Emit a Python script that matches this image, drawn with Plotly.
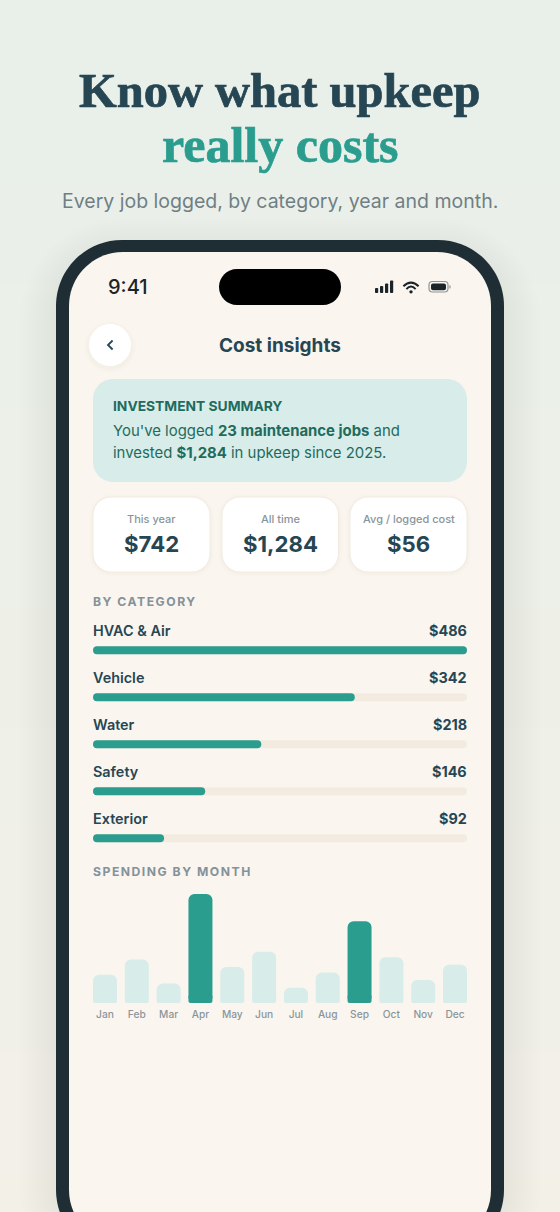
import plotly.graph_objects as go

W, H = 560, 1212

# ---- data ----
categories = ["HVAC & Air", "Vehicle", "Water", "Safety", "Exterior"]
category_labels = ["$486", "$342", "$218", "$146", "$92"]
category_fill_pct = [100, 70, 45, 30, 19]
months = ["Jan", "Feb", "Mar", "Apr", "May", "Jun", "Jul", "Aug", "Sep", "Oct", "Nov", "Dec"]
month_pct = [26, 40, 18, 100, 33, 47, 14, 28, 75, 42, 21, 35]
highlight_months = ["Apr", "Sep"]
stat_labels = ["This year", "All time", "Avg / logged cost"]
stat_values = ["$742", "$1,284", "$56"]

# ---- colours ----
DARK = "#264653"
TEAL = "#2a9d8f"
MINT = "#d8ede9"
TRACK = "#f3ebe0"
SCREEN = "#faf5ef"
FRAME = "#1f2e35"
GREEN_TXT = "#1f6b5e"
GREY = "#84929a"
INTER = "Inter"
SERIF = "Liberation Serif"


def px(x):
    return x / W


def py(y):
    return 1 - y / H


def rr_path(x0, y0, x1, y1, r):
    k = 0.5523 * r
    pts = [
        f"M{px(x0 + r)},{py(y0)}", f"L{px(x1 - r)},{py(y0)}",
        f"C{px(x1 - r + k)},{py(y0)} {px(x1)},{py(y0 + r - k)} {px(x1)},{py(y0 + r)}",
        f"L{px(x1)},{py(y1 - r)}",
        f"C{px(x1)},{py(y1 - r + k)} {px(x1 - r + k)},{py(y1)} {px(x1 - r)},{py(y1)}",
        f"L{px(x0 + r)},{py(y1)}",
        f"C{px(x0 + r - k)},{py(y1)} {px(x0)},{py(y1 - r + k)} {px(x0)},{py(y1 - r)}",
        f"L{px(x0)},{py(y0 + r)}",
        f"C{px(x0)},{py(y0 + r - k)} {px(x0 + r - k)},{py(y0)} {px(x0 + r)},{py(y0)}", "Z",
    ]
    return "".join(pts)


shapes = []


def rr(x0, y0, x1, y1, r, fill, line=None, lw=0):
    shapes.append(dict(type="path", path=rr_path(x0, y0, x1, y1, r), xref="paper", yref="paper",
                       fillcolor=fill, layer="below",
                       line=dict(color=line or "rgba(0,0,0,0)", width=lw)))


def mix(a, b, t):
    return "rgb(%d,%d,%d)" % tuple(round(a[i] + (b[i] - a[i]) * t) for i in range(3))


# background gradient (each band runs to the page bottom so no seams show)
TOP_C, BOT_C = (232, 240, 233), (243, 240, 232)
for i in range(0, 61):
    yy = i * H / 60
    shapes.append(dict(type="rect", xref="paper", yref="paper", x0=0, x1=1, y0=py(yy), y1=0,
                       fillcolor=mix(TOP_C, BOT_C, i / 60), line=dict(width=0), layer="below"))

# phone shadow
for g in range(12, 0, -1):
    s = g * 3
    rr(56 - s, 240 + 14 - s, 504 + s, 1256 + s, 66 + s, "rgba(50,60,40,0.004)")

# phone
rr(56, 240, 504, 1256, 66, FRAME)
rr(69, 252, 491, 1244, 54, SCREEN)
rr(219, 269, 341, 305, 18, "#000000")

# status bar: signal
for x0, top in [(375, 288), (380, 286), (385, 283.5), (390, 280.5)]:
    rr(x0, top, x0 + 3.2, 293, 0.8, "#1b2529")


# wifi
def wifi(cx, cy_top, hw, drop, w):
    shapes.append(dict(type="path", xref="paper", yref="paper", layer="below",
                       path=f"M{px(cx - hw)},{py(cy_top + drop)} Q{px(cx)},{py(cy_top - drop)} {px(cx + hw)},{py(cy_top + drop)}",
                       line=dict(color="#1b2529", width=w), fillcolor="rgba(0,0,0,0)"))


wifi(411, 282.6, 7.6, 3.6, 2)
wifi(411, 286.6, 4.6, 2.6, 2)
rr(409.3, 290.2, 412.7, 293.4, 1.6, "#1b2529")

# battery
rr(429, 281.5, 448, 292, 3.4, "rgba(0,0,0,0)", "#8f9494", 1.2)
rr(431, 283.4, 446, 290.2, 2, "#1b2529")
rr(449.3, 285.2, 450.6, 288.6, 0.6, "#9aa0a0")

# back button
for g in range(5, 0, -1):
    rr(89 - g, 324 + 2 - g, 131 + g, 366 + 2 + g, 21 + g, "rgba(80,70,50,0.008)")
rr(89, 324, 131, 366, 21, "#ffffff")
shapes.append(dict(type="path", xref="paper", yref="paper", layer="below",
                   path=f"M{px(112.6)},{py(340.5)} L{px(108)},{py(345)} L{px(112.6)},{py(349.5)}",
                   line=dict(color=DARK, width=1.8), fillcolor="rgba(0,0,0,0)"))

# summary box
rr(93, 379, 467, 482, 20, MINT)

# stat cards
card_x = [(93, 210), (222, 338.5), (350, 467)]
for (a, b) in card_x:
    for g in range(4, 0, -1):
        rr(a - g, 497 + 1 - g, b + g, 572 + 1 + g, 18 + g, "rgba(80,70,50,0.008)")
    rr(a, 497, b, 572, 18, "#ffffff", "#f2eadf", 1)

annotations = []


def text(x, y, s, size, color, anchor="left", weight=400, family=INTER):
    annotations.append(dict(x=px(x), y=py(y), xref="paper", yref="paper", text=s, showarrow=False,
                            xanchor=anchor, yanchor="middle", align=anchor, borderpad=0, borderwidth=0,
                            font=dict(family=family, size=size, color=color, weight=weight)))


text(280, 91, "Know what upkeep", 48.5, DARK, "center", 700, SERIF)
text(280, 145, "really costs", 50, TEAL, "center", 700, SERIF)
text(280, 201, "Every job logged, by category, year and month.", 19.5, "#6f7f85", "center")
text(108, 287, "9:41", 20, "#1b2529", "left", 500)
text(280, 345, "Cost insights", 19, DARK, "center", 700)
text(112.5, 405.6, "INVESTMENT SUMMARY", 13.8, GREEN_TXT, "left", 700)
text(112.5, 431, "You've logged <b>23 maintenance jobs</b> and", 14.9, GREEN_TXT)
text(112.5, 453, "invested <b>$1,284</b> in upkeep since 2025.", 14.9, GREEN_TXT)
for (a, b), lab, val in zip(card_x, stat_labels, stat_values):
    c = (a + b) / 2
    text(c, 519, lab, 11, "#8a959b", "center", 500)
    text(c, 543.2, val, 22.2, DARK, "center", 700)
text(93, 601.7, "BY CATEGORY", 12.2, GREY, "left", 700)
text(93, 871.6, "SPENDING BY MONTH", 12.2, GREY, "left", 700)

ROW0, PITCH = 650.2, 47
for i, (cat, lab) in enumerate(zip(categories, category_labels)):
    y = ROW0 - 19.6 + i * PITCH
    text(93, y, cat, 14.4, DARK, "left", 600)
    text(467, y, lab, 14.4, DARK, "right", 700)

fig = go.Figure()
BAR_W = 8 / PITCH
track = [100] * len(categories)


def hbar(vals, color):
    # an explicit base makes plotly round both ends of the bar
    fig.add_trace(go.Bar(y=categories, x=vals, base=[0] * len(vals), orientation="h",
                         width=BAR_W, marker=dict(color=color, cornerradius=4, line=dict(width=0)),
                         xaxis="x", yaxis="y", hoverinfo="skip", showlegend=False))


hbar(track, TRACK)
hbar(category_fill_pct, TEAL)

M_PITCH = 350 / 11
M_W = 24 / M_PITCH
colors = [TEAL if m in highlight_months else MINT for m in months]
# full bar with the large top radius; a short foot squares off the bottom corners to a small radius
fig.add_trace(go.Bar(x=months, y=month_pct, base=[0] * len(months), width=M_W,
                     marker=dict(color=colors, cornerradius=6, line=dict(width=0)),
                     xaxis="x2", yaxis="y2", hoverinfo="skip", showlegend=False))
FOOT = 7.5
fig.add_trace(go.Bar(x=months, y=[FOOT] * len(months), base=[0] * len(months), width=M_W,
                     marker=dict(color=colors, cornerradius=2.5, line=dict(width=0)),
                     xaxis="x2", yaxis="y2", hoverinfo="skip", showlegend=False))

m_side = 12 / M_PITCH
fig.update_layout(
    width=W, height=H, autosize=False, margin=dict(l=0, r=0, t=0, b=0),
    paper_bgcolor="#eef0e8", plot_bgcolor="rgba(0,0,0,0)",
    barmode="overlay", showlegend=False, shapes=shapes, annotations=annotations,
    xaxis=dict(domain=[px(93), px(467)], range=[0, 100], visible=False, fixedrange=True),
    yaxis=dict(domain=[py(ROW0 + 4.5 * PITCH - 0), py(ROW0 - 0.5 * PITCH)], type="category",
               categoryorder="array", categoryarray=categories, range=[4.5, -0.5], visible=False, fixedrange=True),
    xaxis2=dict(domain=[px(93), px(467)], type="category", categoryorder="array", categoryarray=months,
                range=[-m_side, 11 + m_side], showgrid=False, zeroline=False, showline=False,
                ticks="outside", ticklen=2, tickcolor="rgba(0,0,0,0)", tickfont=dict(family=INTER, size=10.2, color="#8a959b", weight=500),
                anchor="y2", fixedrange=True),
    yaxis2=dict(domain=[py(1003), py(894)], range=[0, 100], visible=False, anchor="x2", fixedrange=True),
)

post = """
document.body.style.margin='0';
document.documentElement.style.overflow='hidden';
document.querySelectorAll('.annotation-text').forEach(function(t){
  var s=t.textContent;
  if(s==='BY CATEGORY'||s==='SPENDING BY MONTH'){t.style.letterSpacing='1.5px';}
  if(s==='Know what upkeep'){t.style.stroke='#264653';t.style.strokeWidth='0.7px';}
  if(s==='really costs'){t.style.stroke='#2a9d8f';t.style.strokeWidth='0.7px';}
});
"""
fig.write_html("out.html", config=dict(displayModeBar=False), post_script=post)
